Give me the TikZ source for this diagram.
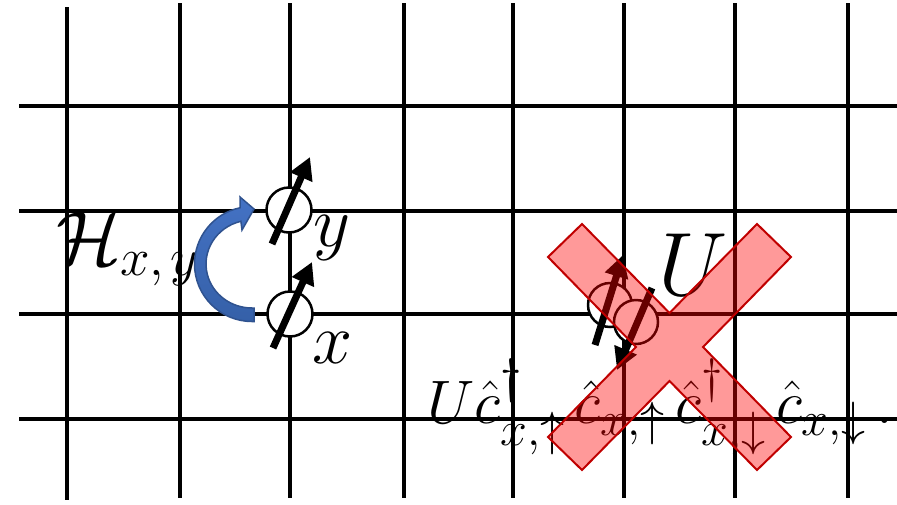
\RequirePackage{fix-cm}
\documentclass[tikz,border=0pt]{standalone}
\usepackage{amssymb}
\usetikzlibrary{arrows.meta}
\DeclareMathSizes{76}{76}{53}{38}
\DeclareMathSizes{72}{72}{50}{36}
\DeclareMathSizes{90}{90}{63}{45}
\DeclareMathSizes{60}{60}{47}{36}
\definecolor{xred}{HTML}{C00000}
\definecolor{hopfill}{HTML}{4472C4}
\definecolor{hopdark}{HTML}{3560A8}
\definecolor{hopedge}{HTML}{2F528F}
\begin{document}
\begin{tikzpicture}[x=1pt,y=-1pt,
  gridline/.style={line width=3.5pt,black},
  site/.style={circle,draw,line width=2.5pt,fill=white,minimum size=45pt,inner sep=0pt},
  dsite/.style={site,minimum size=44pt},
  spin/.style={line width=7pt,-{Triangle[length=22pt,width=23pt]}},
  lbl/.style={inner sep=0pt,anchor=base west},
  hop/.style={top color=hopfill,bottom color=hopdark,draw=hopedge,line width=1.5pt},
  forbid/.style={fill=red,fill opacity=0.4,draw=xred,line width=2pt}]
\useasboundingbox (0,0) rectangle (897,504);
% grid
\draw[gridline] (67,7) -- (67,500);
\foreach \x in {180,290,404,513,624,735,848}{\draw[gridline] (\x,3) -- (\x,498);}
\foreach \y in {106,211,314,419}{\draw[gridline] (19,\y) -- (897,\y);}
% labels
\node[lbl] (ly) at (313,246) {\fontsize{72}{72}\selectfont$y$};
\node[lbl] (lx) at (312,363) {\fontsize{72}{72}\selectfont$x$};
\node[lbl] (lh) at (56,264) {\fontsize{76}{76}\selectfont$\mathcal{H}_{x,\mkern2mu y}$};
\node[lbl] (lu) at (658,295) {\fontsize{90}{90}\selectfont$U$};
\node[lbl] (lf) at (427,423) {\resizebox{466pt}{!}{\fontsize{60}{60}\selectfont$U\hat{c}^{\dagger}_{x,\uparrow}\,\hat{c}_{x,\uparrow}\,\hat{c}^{\dagger}_{x,\downarrow}\,\hat{c}_{x,\downarrow}\,.$}};
% hopping arrow
\draw[hop] (254,321.5) -- (252,321.5)
  arc[start angle=90,end angle=258,x radius=57.5,y radius=57.5]
  -- (240,197) -- (254,209) -- (242,230) -- (240.9,221.3)
  arc[start angle=256,end angle=90,x radius=46,y radius=44]
  -- (254,308) -- cycle;
% sites
\node[site] (sy) at (289,210) {};
\node[site] (sx) at (290,314) {};
\coordinate (sya) at (272,244); \coordinate (syb) at (310,157);
\coordinate (sxa) at (273,348); \coordinate (sxb) at (312,262);
\draw[spin] (sya) -- (syb);
\draw[spin] (sxa) -- (sxb);
% double occupied site
\node[dsite] (d1) at (610,305) {};
\node[dsite] (d2) at (636,322) {};
\coordinate (dua) at (595,345); \coordinate (dub) at (623,255);
\coordinate (dda) at (652,288); \coordinate (ddb) at (617,370);
\draw[spin] (dua) -- (dub);
\draw[spin] (dda) -- (ddb);
% forbidden cross
\draw[forbid] (669.5,313) -- (757,224) -- (791,257) -- (703,347) -- (791,437)
  -- (757,470) -- (669.5,381) -- (582,470) -- (548,437) -- (636,347)
  -- (548,257) -- (582,224) -- cycle;
\end{tikzpicture}
\end{document}
